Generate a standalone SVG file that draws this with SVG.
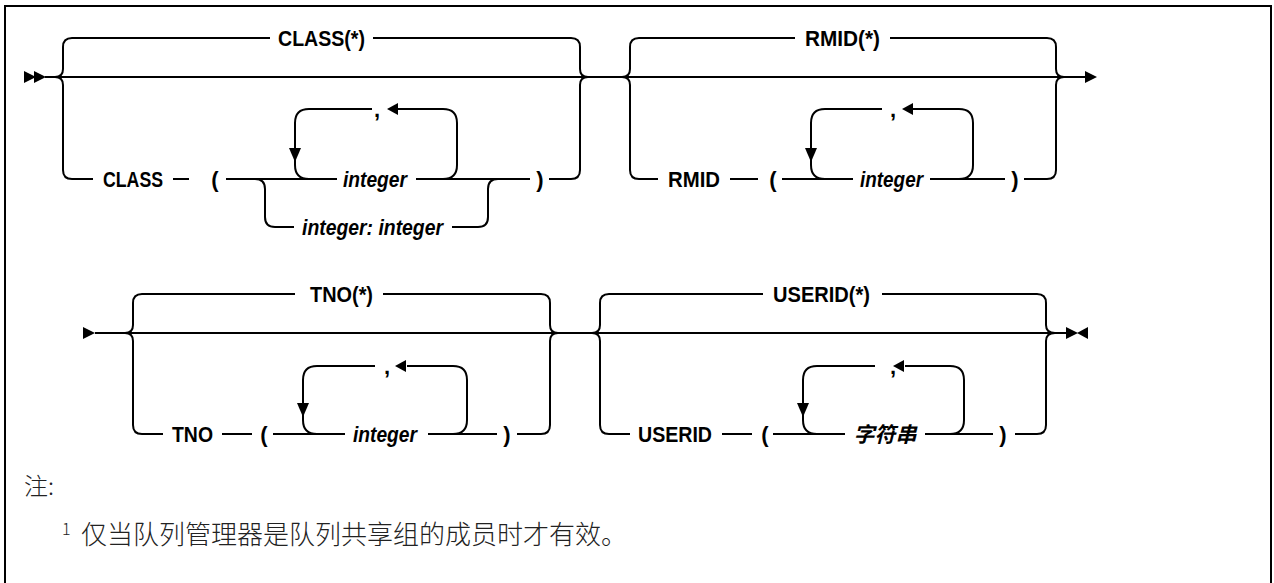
<svg xmlns="http://www.w3.org/2000/svg" width="1274" height="583" viewBox="0 0 1274 583">
<style>
.ln{fill:none;stroke:#000;stroke-width:2;stroke-linejoin:round}
.ah{fill:#000;stroke:none}
.t{font-family:"Liberation Sans",Arial,sans-serif;font-size:22px;font-weight:bold;fill:#000;text-anchor:middle}
.i{font-style:italic}
.cjk{font-family:"Liberation Sans","Noto Sans CJK SC",sans-serif;font-size:21px;font-weight:bold;font-style:italic;fill:#000;text-anchor:middle}
.note{font-family:"Noto Sans CJK SC",sans-serif;font-weight:300;fill:#222}
</style>
<defs>
<polygon id="tr" points="0,-6 12,0 0,6"/>
<polygon id="tl" points="0,0 11,-6 11,6"/>
<polygon id="td" points="-6,-14 6,-14 0,0"/>
</defs>
<rect x="0" y="0" width="1274" height="583" fill="#fff"/>
<rect x="5" y="6" width="1266" height="620" fill="none" stroke="#000" stroke-width="2"/>

<g id="connectors">
<g class="ln">
<!-- row 1 main -->
<path d="M45,77 H1085"/>
<!-- CLASS bracket -->
<path d="M55,77 Q63,77 63,69 V47 Q63,38 72,38 H270"/>
<path d="M55,77 Q63,77 63,85 V170 Q63,179 72,179 H93"/>
<path d="M373,38 H571 Q580,38 580,47 V69 Q580,77 588,77"/>
<path d="M549,179 H571 Q580,179 580,170 V85 Q580,77 588,77"/>
<path d="M173,179 H189 M226,179 H337 M416,179 H530"/>
<path d="M309,179 Q295,179 295,165 V123 Q295,109 309,109 H372"/>
<path d="M443,179 Q457,179 457,165 V123 Q457,109 443,109 H398"/>
<path d="M255,179 Q265,179 265,189 V217 Q265,227 275,227 H294"/>
<path d="M452,227 H478 Q488,227 488,217 V189 Q488,179 498,179"/>
<!-- RMID bracket -->
<path d="M622,77 Q630,77 630,69 V47 Q630,38 639,38 H795"/>
<path d="M622,77 Q630,77 630,85 V170 Q630,179 639,179 H658"/>
<path d="M890,38 H1047 Q1056,38 1056,47 V69 Q1056,77 1064,77"/>
<path d="M1024,179 H1047 Q1056,179 1056,170 V85 Q1056,77 1064,77"/>
<path d="M730,179 H758 M782,179 H853 M930,179 H1005"/>
<path d="M825,179 Q811,179 811,165 V123 Q811,109 825,109 H882"/>
<path d="M959,179 Q973,179 973,165 V123 Q973,109 959,109 H913"/>
<!-- row 2 main -->
<path d="M95,333 H1066"/>
<!-- TNO bracket -->
<path d="M125,333 Q133,333 133,325 V303 Q133,294 142,294 H295"/>
<path d="M125,333 Q133,333 133,341 V425 Q133,434 142,434 H163"/>
<path d="M383,294 H541 Q550,294 550,303 V325 Q550,333 558,333"/>
<path d="M517,434 H541 Q550,434 550,425 V341 Q550,333 558,333"/>
<path d="M222,434 H252 M273,434 H345 M428,434 H497"/>
<path d="M317,434 Q303,434 303,420 V380 Q303,366 317,366 H375"/>
<path d="M453,434 Q467,434 467,420 V380 Q467,366 453,366 H407"/>
<!-- USERID bracket -->
<path d="M592,333 Q600,333 600,325 V303 Q600,294 609,294 H763"/>
<path d="M592,333 Q600,333 600,341 V425 Q600,434 609,434 H630"/>
<path d="M882,294 H1037 Q1046,294 1046,303 V325 Q1046,333 1055,333"/>
<path d="M1015,434 H1037 Q1046,434 1046,425 V341 Q1046,333 1055,333"/>
<path d="M722,434 H752 M773,434 H845 M925,434 H993"/>
<path d="M817,434 Q803,434 803,420 V380 Q803,366 817,366 H875"/>
<path d="M950,434 Q964,434 964,420 V380 Q964,366 950,366 H905"/>
</g>
<g class="ah">
<use href="#tr" x="24" y="77"/>
<use href="#tr" x="34" y="77"/>
<use href="#tr" x="1085" y="77"/>
<use href="#td" x="295" y="162"/>
<use href="#tl" x="387" y="109"/>
<use href="#td" x="811" y="162"/>
<use href="#tl" x="902" y="109"/>
<use href="#tr" x="83" y="333"/>
<use href="#tr" x="1066" y="333"/>
<polygon points="1088,327 1088,339 1077,333"/>
<use href="#td" x="303" y="417"/>
<use href="#tl" x="395" y="366"/>
<use href="#td" x="803" y="417"/>
<use href="#tl" x="893" y="366"/>
</g>
</g>

<g id="class-default"><text class="t" x="321.5" y="46" textLength="87" lengthAdjust="spacingAndGlyphs">CLASS(*)</text></g>
<g id="class-kw"><text class="t" x="133" y="187" textLength="60" lengthAdjust="spacingAndGlyphs">CLASS</text></g>
<g id="class-lp"><text class="t" x="215" y="187">(</text></g>
<g id="class-int"><text class="t i" x="375" y="187" textLength="64" lengthAdjust="spacingAndGlyphs">integer</text></g>
<g id="class-comma"><text class="t" x="377" y="117">,</text></g>
<g id="class-range"><text class="t i" x="372.5" y="235" textLength="141" lengthAdjust="spacingAndGlyphs">integer: integer</text></g>
<g id="class-rp"><text class="t" x="540" y="187">)</text></g>

<g id="rmid-default"><text class="t" x="842.5" y="46" textLength="75" lengthAdjust="spacingAndGlyphs">RMID(*)</text></g>
<g id="rmid-kw"><text class="t" x="694" y="187" textLength="52" lengthAdjust="spacingAndGlyphs">RMID</text></g>
<g id="rmid-lp"><text class="t" x="773" y="187">(</text></g>
<g id="rmid-int"><text class="t i" x="891.5" y="187" textLength="63" lengthAdjust="spacingAndGlyphs">integer</text></g>
<g id="rmid-comma"><text class="t" x="893" y="117">,</text></g>
<g id="rmid-rp"><text class="t" x="1015" y="187">)</text></g>

<g id="tno-default"><text class="t" x="341.5" y="302" textLength="63" lengthAdjust="spacingAndGlyphs">TNO(*)</text></g>
<g id="tno-kw"><text class="t" x="192.5" y="442" textLength="41" lengthAdjust="spacingAndGlyphs">TNO</text></g>
<g id="tno-lp"><text class="t" x="264" y="442">(</text></g>
<g id="tno-int"><text class="t i" x="385" y="442" textLength="64" lengthAdjust="spacingAndGlyphs">integer</text></g>
<g id="tno-comma"><text class="t" x="387" y="374">,</text></g>
<g id="tno-rp"><text class="t" x="507" y="442">)</text></g>

<g id="userid-default"><text class="t" x="821.5" y="302" textLength="97" lengthAdjust="spacingAndGlyphs">USERID(*)</text></g>
<g id="userid-kw"><text class="t" x="675" y="442" textLength="74" lengthAdjust="spacingAndGlyphs">USERID</text></g>
<g id="userid-lp"><text class="t" x="765" y="442">(</text></g>
<g id="userid-str"><text class="cjk" x="885" y="442">字符串</text></g>
<g id="userid-comma"><text class="t" x="893" y="374">,</text></g>
<g id="userid-rp"><text class="t" x="1003" y="442">)</text></g>

<g id="notes">
<text class="note" x="24" y="495" font-size="24">注:</text>
<text class="note" x="62" y="535" font-size="16">1</text>
<text class="note" x="81" y="544" font-size="26">仅当队列管理器是队列共享组的成员时才有效。</text>
</g>
</svg>
